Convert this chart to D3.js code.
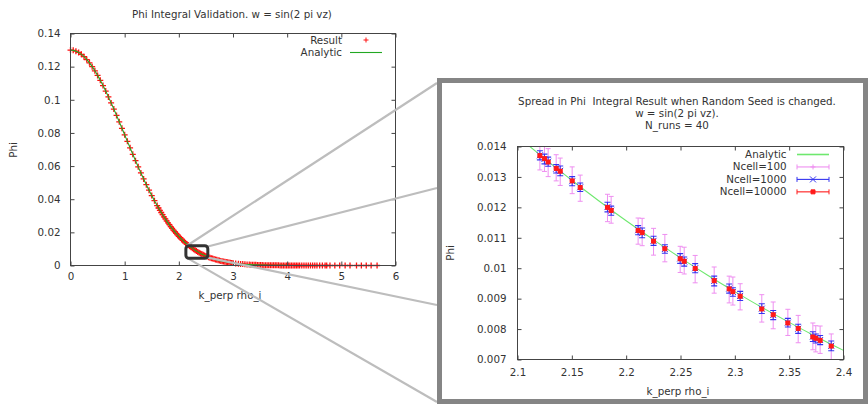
<!DOCTYPE html>
<html><head><meta charset="utf-8">
<script src="https://cdn.jsdelivr.net/npm/d3@7"></script>
<style>
body{margin:0;background:#fff}
svg{display:block}
text{font-family:"DejaVu Sans",sans-serif;fill:#333;font-size:10.3px}
</style>
</head><body>
<svg id="c" width="868" height="404"></svg>
<script>
// ---------- main chart data ----------
const analyticK = [0,0.05,0.1,0.15,0.2,0.25,0.3,0.35,0.4,0.45,0.5,0.55,0.6,0.65,0.7,0.75,0.8,0.85,0.9,0.95,
  1.0,1.05,1.1,1.15,1.2,1.25,1.3,1.35,1.4,1.45,1.5,1.55,1.6,1.65,1.7,1.75,1.8,1.85,1.9,1.95,
  2.0,2.05,2.1,2.15,2.2,2.25,2.3,2.35,2.4,2.45,2.5,2.55,2.6,2.65,2.7,2.75,2.8,2.85,2.9,2.95,
  3.0,3.1,3.2,3.3,3.4,3.5,3.6,3.7,3.8,3.9,4.0,4.5,5.0,5.5,6.0];
const analyticPhi = [0.13,0.12984,0.12935,0.12855,0.12743,0.12600,0.12428,0.12228,0.12001,0.11748,0.11472,0.11175,0.10859,0.10524,0.10175,0.09813,0.09440,0.09059,0.08671,0.08279,
  0.07885,0.07491,0.07099,0.06711,0.06328,0.05952,0.05584,0.05226,0.04879,0.04544,0.04220,0.03911,0.03615,0.03332,0.03065,0.02812,0.02573,0.02348,0.02138,0.01942,
  0.01759,0.01590,0.01433,0.01289,0.01156,0.01034,0.00923,0.00822,0.00730,0.00646,0.00571,0.00503,0.00443,0.00388,0.00340,0.00296,0.00258,0.00224,0.00194,0.00168,
  0.00144,0.00106,0.00078,0.00056,0.00040,0.00028,0.00020,0.00014,0.00009,0.00006,0.00004,0.000004,0,0,0];

const resultK = [0,0.05,0.1,0.15,0.2,0.25,0.3,0.35,0.4,0.45,0.5,0.55,0.6,0.65,0.7,0.75,0.8,0.85,0.9,0.95,
  1.0,1.05,1.1,1.15,1.2,1.25,1.3,1.35,1.4,1.45,1.5,1.55,1.6,1.625,1.65,1.675,1.7,1.725,1.75,1.775,1.8,1.825,1.85,1.875,1.9,1.925,1.95,1.975,
  2.0,2.025,2.05,2.075,2.1,2.125,2.15,2.175,2.2,2.225,2.25,2.275,2.3,2.325,2.35,2.375,2.4,2.425,2.45,2.475,2.5,2.525,2.55,2.575,2.6,2.625,2.65,2.675,
  2.7,2.725,2.75,2.775,2.8,2.825,2.85,2.875,2.9,2.925,2.95,2.975,3.0,
  3.05,3.1,3.14,3.18,3.22,3.26,3.3,3.33,3.36,3.39,3.42,3.45,3.48,3.51,3.54,3.57,3.6,3.63,3.66,3.69,3.72,3.75,3.78,3.81,3.84,3.87,3.9,3.93,3.96,3.99,
  4.02,4.05,4.08,4.11,4.14,4.17,4.2,4.23,4.27,4.31,4.35,4.39,4.43,4.47,4.51,4.55,4.6,4.65,4.7,4.73,
  4.79,4.88,4.97,5.07,5.16,5.28,5.37,5.46,5.55,5.66];
const resultPhi = [0.13,0.12984,0.12935,0.12855,0.12743,0.12600,0.12428,0.12228,0.12001,0.11748,0.11472,0.11175,0.10859,0.10524,0.10175,0.09813,0.09440,0.09059,0.08671,0.08279,
  0.07885,0.07491,0.07099,0.06711,0.06328,0.05952,0.05584,0.05226,0.04879,0.04544,0.04220,0.03911,0.03615,0.03471,0.03332,0.03199,0.03065,0.02939,0.02812,0.02693,0.02573,0.02461,0.02348,0.02243,0.02138,0.02040,0.01942,0.01851,
  0.01759,0.01675,0.01590,0.01512,0.01433,0.01360,0.01289,0.01221,0.01156,0.01094,0.01034,0.00977,0.00923,0.00871,0.00822,0.00775,0.00730,0.00687,0.00646,0.00607,0.00571,0.00536,0.00503,0.00472,0.00443,0.00415,0.00388,0.00363,
  0.00340,0.00318,0.00296,0.00277,0.00258,0.00241,0.00224,0.00209,0.00194,0.00181,0.00168,0.00156,0.00144,
  0.00124,0.00106,0.00094,0.00083,0.00073,0.00064,0.00056,0.00051,0.00046,0.00042,0.00038,0.00034,0.00030,0.00027,0.00025,0.00022,0.00020,0.00018,0.00016,0.00014,0.00013,0.00011,0.00010,0.00009,0.00008,0.00007,0.00006,0.00005,0.00004,0.00004,
  0.00003,0.00003,0.00002,0.00002,0.00002,0.00001,0.00001,0.00001,0.00001,0,0,0,0,0,0,0,0,0,0,0,
  0,0,0,0,0,0,0,0,0,0];

const mainXTicks = [0,1,2,3,4,5,6];
const mainYTicks = [0,0.02,0.04,0.06,0.08,0.1,0.12,0.14];

// ---------- inset data ----------
const insetAnalyticK = [2.1,2.125,2.15,2.175,2.2,2.225,2.25,2.275,2.3,2.325,2.35,2.375,2.4];
const insetAnalyticPhi = [0.01433,0.01360,0.01289,0.01221,0.01156,0.01094,0.01034,0.00977,0.00923,0.00871,0.00822,0.00775,0.00730];

const insetK = [2.1206,2.1248,2.1282,2.1356,2.1393,2.1503,2.1577,2.1828,2.1862,2.2110,2.2147,2.2252,2.2356,2.2497,
  2.2534,2.2635,2.2810,2.2948,2.2982,2.3049,2.3248,2.3353,2.3488,2.3583,2.3718,2.3745,2.3785,2.3887];
const ncell100Phi = [0.01368,0.01362,0.01347,0.01330,0.01317,0.01289,0.01263,0.01198,0.01192,0.01122,0.01119,0.01087,0.01066,0.01029,
  0.01025,0.00997,0.00961,0.00930,0.00925,0.00906,0.00868,0.00845,0.00822,0.00800,0.00776,0.00768,0.00765,0.00742];
const ncell100Err = [0.00045,0.00044,0.00046,0.00043,0.00045,0.00044,0.00043,0.00045,0.00044,0.00043,0.00045,0.00044,0.00045,0.00043,
  0.00044,0.00045,0.00043,0.00044,0.00046,0.00043,0.00045,0.00044,0.00043,0.00045,0.00044,0.00043,0.00045,0.00042];
const ncell1000Phi = [0.01371,0.01359,0.01350,0.01327,0.01320,0.01286,0.01266,0.01201,0.01189,0.01125,0.01116,0.01090,0.01063,0.01032,
  0.01022,0.01000,0.00958,0.00933,0.00922,0.00909,0.00867,0.00846,0.00821,0.00801,0.00775,0.00769,0.00764,0.00745];
const ncell1000Err = [0.00015,0.00016,0.00015,0.00014,0.00016,0.00015,0.00014,0.00016,0.00015,0.00015,0.00016,0.00015,0.00014,0.00016,
  0.00015,0.00015,0.00016,0.00015,0.00014,0.00015,0.00016,0.00015,0.00014,0.00015,0.00016,0.00015,0.00015,0.00016];
const ncell10000Phi = [0.01370,0.01360,0.01349,0.01328,0.01319,0.01287,0.01265,0.01200,0.01190,0.01124,0.01117,0.01089,0.01064,0.01031,
  0.01023,0.00999,0.00959,0.00932,0.00923,0.00908,0.00866,0.00847,0.00820,0.00802,0.00774,0.00770,0.00763,0.00744];
const ncell10000Err = [0.00005,0.00005,0.00004,0.00005,0.00005,0.00004,0.00005,0.00005,0.00005,0.00004,0.00005,0.00005,0.00004,0.00005,
  0.00005,0.00004,0.00005,0.00005,0.00004,0.00005,0.00005,0.00004,0.00005,0.00005,0.00004,0.00005,0.00005,0.00004];

const insetXTicks = [2.1,2.15,2.2,2.25,2.3,2.35,2.4];
const insetYTicks = [0.007,0.008,0.009,0.01,0.011,0.012,0.013,0.014];

// zoom box (data coords of main chart)
const zoomBox = {x0:2.13, x1:2.535, y0:0.0043, y1:0.0119};

// ---------- drawing ----------
const svg = d3.select("#c");
const TXT = "#333", BORDER = "#444";

function frameAxes(g, x, y, xt, yt, xfmt, yfmt, tick, xpad, ypad) {
  const [x0,x1] = x.range(), [y0,y1] = y.range();
  g.append("g").attr("transform",`translate(0,${y0})`)
    .call(d3.axisBottom(x).tickValues(xt).tickFormat(xfmt).tickSizeInner(-tick).tickSizeOuter(0).tickPadding(xpad));
  g.append("g").attr("transform",`translate(0,${y1})`)
    .call(d3.axisTop(x).tickValues(xt).tickFormat("").tickSizeInner(-tick).tickSizeOuter(0));
  g.append("g").attr("transform",`translate(${x0},0)`)
    .call(d3.axisLeft(y).tickValues(yt).tickFormat(yfmt).tickSizeInner(-tick).tickSizeOuter(0).tickPadding(ypad));
  g.append("g").attr("transform",`translate(${x1},0)`)
    .call(d3.axisRight(y).tickValues(yt).tickFormat("").tickSizeInner(-tick).tickSizeOuter(0));
  g.selectAll(".domain").remove();
  g.selectAll(".tick line").attr("stroke",BORDER);
  g.selectAll(".tick text").attr("fill",TXT).style("font-size","10.3px").style("font-family","'DejaVu Sans',sans-serif");
  g.append("rect").attr("x",x0).attr("y",y1).attr("width",x1-x0).attr("height",y0-y1)
    .attr("fill","none").attr("stroke",BORDER).attr("stroke-width",1);
}

// main chart
const mx = d3.scaleLinear().domain([0,6]).range([70.5,395.5]);
const my = d3.scaleLinear().domain([0,0.14]).range([265.5,33.5]);
const gm = svg.append("g");

svg.append("text").attr("x",232).attr("y",14).attr("dy","0.35em").attr("text-anchor","middle")
  .text("Phi Integral Validation. w = sin(2 pi vz)");
svg.append("text").attr("transform","translate(13,150) rotate(-90)").attr("dy","0.35em").attr("text-anchor","middle").text("Phi");
svg.append("text").attr("x",230).attr("y",295).attr("dy","0.35em").attr("text-anchor","middle").text("k_perp rho_i");

// Result points (+)
gm.append("g").selectAll("path").data(resultK).join("path")
  .attr("d",(k,i)=>{const X=mx(k),Y=my(resultPhi[i]);return `M${X-3},${Y}h6M${X},${Y-3}v6`;})
  .attr("stroke","#ff1010").attr("stroke-width",1.3).attr("fill","none");
// Analytic line
gm.append("path").datum(analyticK)
  .attr("d",d3.line().x(k=>mx(k)).y((k,i)=>my(analyticPhi[i])).curve(d3.curveMonotoneX))
  .attr("fill","none").attr("stroke","#22a822").attr("stroke-width",1.1);

frameAxes(gm, mx, my, mainXTicks, mainYTicks, d=>String(d), d=>d===0?"0":String(+d.toFixed(2)), 4, 7, 10);

// main legend
svg.append("text").attr("x",342).attr("y",40).attr("dy","0.35em").attr("text-anchor","end").text("Result");
svg.append("path").attr("d","M363.5,40h5M366,37.5v5").attr("stroke","#ff1010").attr("stroke-width",1);
svg.append("text").attr("x",342).attr("y",52).attr("dy","0.35em").attr("text-anchor","end").text("Analytic");
svg.append("line").attr("x1",350).attr("x2",382).attr("y1",52.5).attr("y2",52.5).attr("stroke","#22a822").attr("stroke-width",1.1);

// connecting lines
const bx0 = mx(zoomBox.x0), bx1 = mx(zoomBox.x1), by0 = my(zoomBox.y1), by1 = my(zoomBox.y0);
const connectors = [[bx0+1,by0,437,83],[bx1-1,by0+1,437,188],[bx1-1,by1-1,437,305],[bx0+2,by1,437,402]];
svg.append("g").selectAll("line").data(connectors).join("line")
  .attr("x1",d=>d[0]).attr("y1",d=>d[1]).attr("x2",d=>d[2]).attr("y2",d=>d[3])
  .attr("stroke","#bdbdbd").attr("stroke-width",2.2);
svg.append("rect").attr("x",bx0).attr("y",by0).attr("width",bx1-bx0).attr("height",by1-by0)
  .attr("rx",3).attr("fill","none").attr("stroke","#333").attr("stroke-width",3);

// inset frame
svg.append("rect").attr("x",439.5).attr("y",80.5).attr("width",426).attr("height",321)
  .attr("fill","#fff").attr("stroke","#858585").attr("stroke-width",5);

// inset chart
const ix = d3.scaleLinear().domain([2.1,2.4]).range([517.5,843.5]);
const iy = d3.scaleLinear().domain([0.007,0.014]).range([359.5,146.5]);
const gi = svg.append("g");
svg.append("defs").append("clipPath").attr("id","clipI").append("rect")
  .attr("x",517.5).attr("y",146.5).attr("width",326).attr("height",213);

const titleLines = ["Spread in Phi  Integral Result when Random Seed is changed.","w = sin(2 pi vz).","N_runs = 40"];
svg.append("g").selectAll("text").data(titleLines).join("text")
  .attr("x",677).attr("y",(d,i)=>101+i*12.4).attr("dy","0.35em").attr("text-anchor","middle")
  .style("white-space","pre").attr("xml:space","preserve").text(d=>d);
svg.append("text").attr("transform","translate(450,253) rotate(-90)").attr("dy","0.35em").attr("text-anchor","middle").text("Phi");
svg.append("text").attr("x",678).attr("y",391).attr("dy","0.35em").attr("text-anchor","middle").text("k_perp rho_i");

const gc = gi.append("g").attr("clip-path","url(#clipI)");
gc.append("path").datum(insetAnalyticK)
  .attr("d",d3.line().x(k=>ix(k)).y((k,i)=>iy(insetAnalyticPhi[i])).curve(d3.curveMonotoneX))
  .attr("fill","none").attr("stroke","#6ee86e").attr("stroke-width",1.1);

function errSeries(phi, err, color, cap, marker, sw) {
  const g = gc.append("g");
  g.selectAll("path.eb").data(insetK).join("path").attr("class","eb")
    .attr("d",(k,i)=>{const X=ix(k),T=iy(phi[i]+err[i]),B=iy(phi[i]-err[i]);
      return `M${X},${T}V${B}M${X-cap},${T}h${2*cap}M${X-cap},${B}h${2*cap}`;})
    .attr("stroke",color).attr("stroke-width",sw).attr("fill","none");
  g.selectAll("path.mk").data(insetK).join("path").attr("class","mk")
    .attr("d",(k,i)=>marker(ix(k),iy(phi[i])))
    .attr("stroke",color).attr("stroke-width",1).attr("fill",marker.fill||"none");
}
const plusM = (X,Y)=>`M${X-2.5},${Y}h5M${X},${Y-2.5}v5`;
const crossM = (X,Y)=>`M${X-3},${Y-3}l6,6M${X-3},${Y+3}l6,-6`;
const squareM = (X,Y)=>`M${X-2},${Y-2}h4v4h-4Z`;
squareM.fill = "#ff1a1a";

errSeries(ncell100Phi, ncell100Err, "#ee8ef0", 2.5, plusM, 1);
errSeries(ncell1000Phi, ncell1000Err, "#3434f0", 3, crossM, 1.1);
errSeries(ncell10000Phi, ncell10000Err, "#ff1a1a", 2, squareM, 1);

frameAxes(gi, ix, iy, insetXTicks, insetYTicks, d=>String(+d.toFixed(2)), d=>String(+d.toFixed(3)), 4, 9.5, 11);

// inset legend
const legNames = ["Analytic","Ncell=100","Ncell=1000","Ncell=10000"];
const legColors = ["#6ee86e","#ee8ef0","#3434f0","#ff1a1a"];
const legMarks = [null, plusM, crossM, squareM];
const lg = svg.append("g");
legNames.forEach((n,i)=>{
  const Y = 154 + i*12.45;
  lg.append("text").attr("x",786.5).attr("y",Y).attr("dy","0.35em").attr("text-anchor","end").text(n);
  lg.append("line").attr("x1",797).attr("x2",829).attr("y1",Y+0.5).attr("y2",Y+0.5)
    .attr("stroke",legColors[i]).attr("stroke-width",i===0?1.6:1.1);
  if (legMarks[i]) {
    lg.append("path").attr("d",`M797,${Y-2}v5M829,${Y-2}v5`).attr("stroke",legColors[i]).attr("stroke-width",1);
    lg.append("path").attr("d",legMarks[i](813,Y+0.5)).attr("stroke",legColors[i]).attr("stroke-width",1)
      .attr("fill",legMarks[i].fill||"none");
  }
});
</script>
</body></html>
